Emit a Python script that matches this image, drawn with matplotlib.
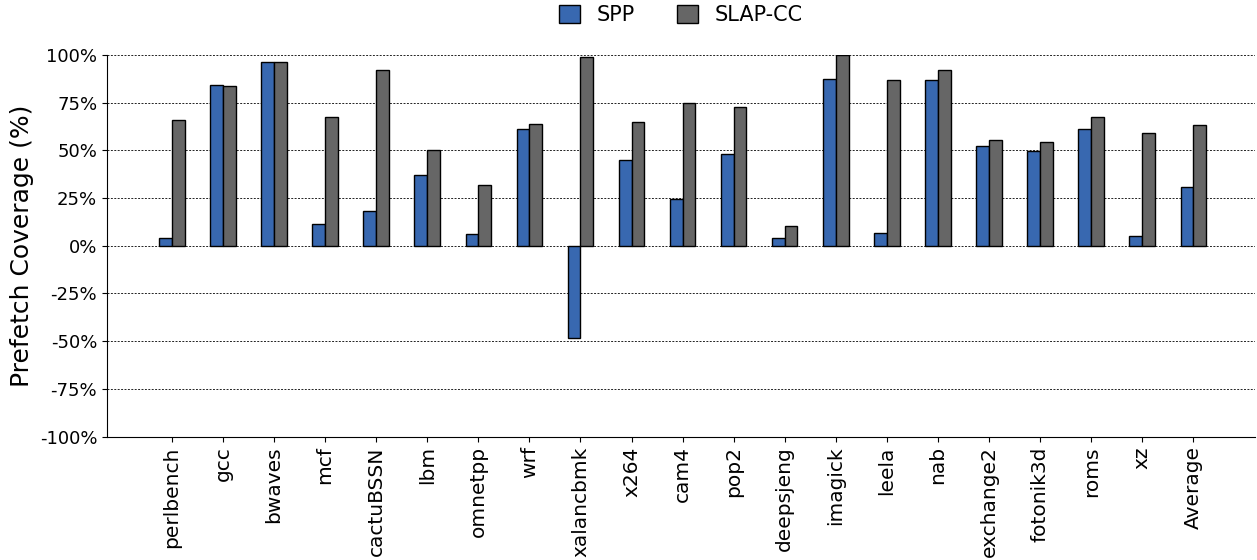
import matplotlib
matplotlib.use("Agg")
import matplotlib.pyplot as plt
import numpy as np
from matplotlib.ticker import FuncFormatter

categories = ["perlbench", "gcc", "bwaves", "mcf", "cactuBSSN", "lbm", "omnetpp", "wrf",
              "xalancbmk", "x264", "cam4", "pop2", "deepsjeng", "imagick", "leela", "nab",
              "exchange2", "fotonik3d", "roms", "xz", "Average"]
spp = [3.8, 84, 96.5, 11.5, 18, 37, 6, 61, -48.5, 44.8, 24.7, 48.2, 3.8, 87.4, 6.8, 87,
       52.5, 49.5, 61, 5, 30.5]
slap = [66, 83.5, 96.5, 67.3, 92, 50, 32, 64, 98.7, 65, 74.7, 72.8, 10.2, 100, 86.6, 92,
        55.5, 54.3, 67.7, 59, 63]
yticks = [-100, -75, -50, -25, 0, 25, 50, 75, 100]

fig = plt.figure(figsize=(12.57, 5.6), dpi=100)
ax = fig.add_axes([0.0851, 0.2205, 0.913, 0.6815])

x = np.arange(len(categories))
w = 0.25
ax.bar(x - w/2, spp, w, color="#3868B0", edgecolor="black", linewidth=1.0, label="SPP", zorder=3)
ax.bar(x + w/2, slap, w, color="#666666", edgecolor="black", linewidth=1.0, label="SLAP-CC", zorder=3)

ax.set_ylim(-100, 100)
ax.set_xlim(-1.27, 21.2)
ax.set_yticks(yticks)
ax.yaxis.set_major_formatter(FuncFormatter(lambda v, p: f"{int(v)}%"))
ax.set_xticks(x)
ax.set_xticklabels(categories, rotation=90, fontsize=14.5)
ax.tick_params(axis="y", labelsize=13)
ax.set_ylabel("Prefetch Coverage (%)", fontsize=18)
ax.yaxis.grid(True, linestyle=(0, (2, 1.5)), color="#222222", linewidth=0.7, zorder=0)
ax.set_axisbelow(True)
for s in ["top", "right"]:
    ax.spines[s].set_visible(False)

ax.legend(loc="center", bbox_to_anchor=(0.5, 1.105), ncol=2, frameon=False,
          fontsize=15, handlelength=1.0, handleheight=1.0, columnspacing=2.0,
          handletextpad=0.8)

fig.savefig("out.png", dpi=100)
